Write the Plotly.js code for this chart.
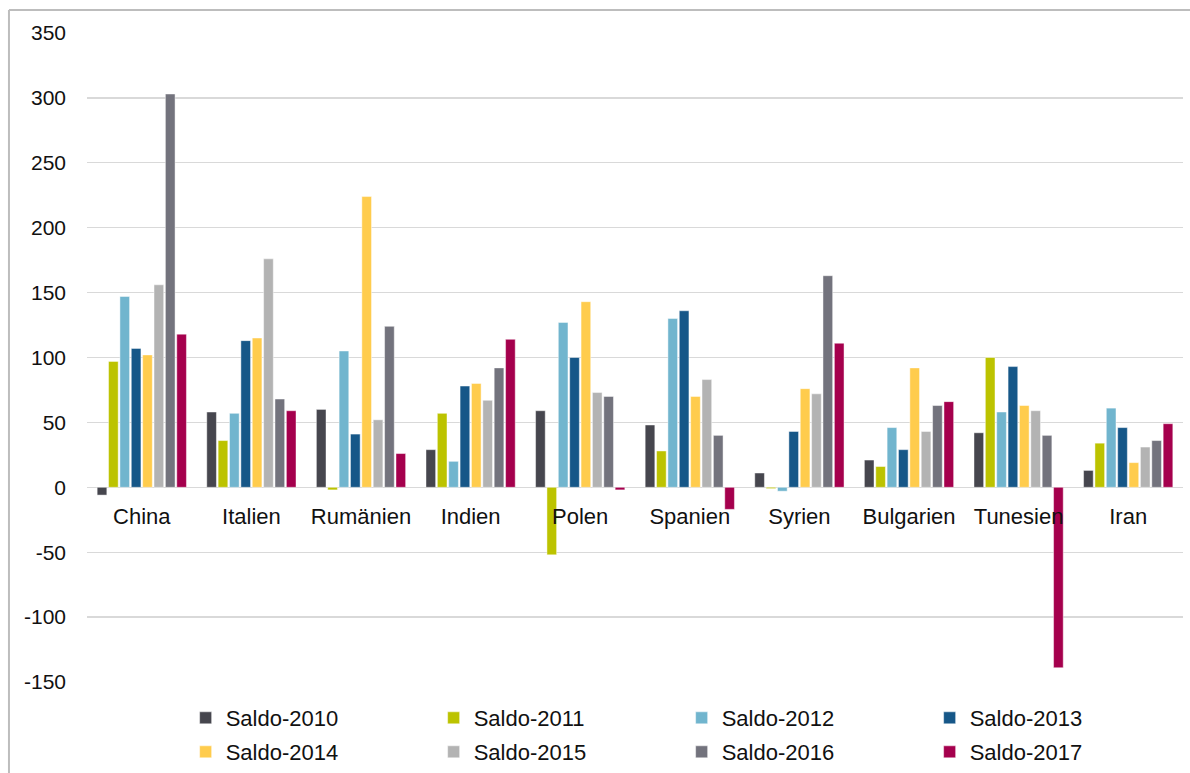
<!DOCTYPE html>
<html>
<head>
<meta charset="utf-8">
<script src="https://cdn.plot.ly/plotly-3.0.1.min.js"></script>
<style>
  html, body { margin: 0; padding: 0; background: #ffffff; }
  #chart { width: 1190px; height: 773px; }
</style>
</head>
<body>
<div id="chart"></div>
<script>
// Countries on the category axis
const countries = ["China", "Italien", "Rumänien", "Indien", "Polen", "Spanien", "Syrien", "Bulgarien", "Tunesien", "Iran"];

// Yearly balance per country
const saldo2010 = [-6, 58, 60, 29, 59, 48, 11, 21, 42, 13];
const saldo2011 = [97, 36, -2, 57, -52, 28, -1, 16, 100, 34];
const saldo2012 = [147, 57, 105, 20, 127, 130, -3, 46, 58, 61];
const saldo2013 = [107, 113, 41, 78, 100, 136, 43, 29, 93, 46];
const saldo2014 = [102, 115, 224, 80, 143, 70, 76, 92, 63, 19];
const saldo2015 = [156, 176, 52, 67, 73, 83, 72, 43, 59, 31];
const saldo2016 = [303, 68, 124, 92, 70, 40, 163, 63, 40, 36];
const saldo2017 = [118, 59, 26, 114, -2, -17, 111, 66, -139, 49];

const seriesNames = ["Saldo-2010", "Saldo-2011", "Saldo-2012", "Saldo-2013",
                     "Saldo-2014", "Saldo-2015", "Saldo-2016", "Saldo-2017"];
const seriesValues = [saldo2010, saldo2011, saldo2012, saldo2013,
                      saldo2014, saldo2015, saldo2016, saldo2017];
const seriesColors = ["#46464e", "#bcc300", "#71b5ce", "#165788",
                      "#ffcc4d", "#b3b3b3", "#73737d", "#a5004d"];

const yTicks = [-150, -100, -50, 0, 50, 100, 150, 200, 250, 300, 350];

// first four series go in the upper legend row, the rest in the lower one
const traces = seriesNames.map((name, i) => ({
  type: "bar",
  name: name,
  x: countries,
  y: seriesValues[i],
  legend: i < 4 ? "legend" : "legend2",
  marker: { color: seriesColors[i], line: { color: "rgba(255,255,255,0.45)", width: 1 } },
  hoverinfo: "x+y+name"
}));

const family = "Liberation Sans, Arial, sans-serif";
const textColor = "#111111";
const axisFont = { family: family, size: 21, color: textColor };
const catFont = { family: family, size: 22, color: textColor };
const legendFont = { family: family, size: 22, color: textColor };

const legendRow = (yPos) => ({
  orientation: "h",
  x: 0.09,
  xanchor: "left",
  y: yPos,
  yanchor: "middle",
  entrywidth: 203,
  entrywidthmode: "pixels",
  font: legendFont,
  traceorder: "normal",
  bgcolor: "rgba(0,0,0,0)"
});

const layout = {
  width: 1190,
  height: 773,
  margin: { l: 87, r: 7, t: 33, b: 91, autoexpand: false },
  paper_bgcolor: "#ffffff",
  plot_bgcolor: "#ffffff",
  font: axisFont,
  barmode: "group",
  bargap: 0.17,
  bargroupgap: 0.15,
  showlegend: true,
  xaxis: {
    type: "category",
    anchor: "free",
    position: 0.3,
    showgrid: false,
    showline: false,
    ticks: "",
    ticklabelstandoff: 14,
    tickfont: catFont,
    fixedrange: true
  },
  yaxis: {
    range: [-150, 350],
    tickvals: yTicks,
    ticktext: yTicks.map(String),
    showgrid: true,
    gridcolor: "#d9d9d9",
    gridwidth: 1.3,
    zeroline: true,
    zerolinecolor: "#d9d9d9",
    zerolinewidth: 1.5,
    showline: false,
    ticks: "",
    ticklabelstandoff: 20,
    tickfont: axisFont,
    fixedrange: true
  },
  legend: legendRow(-0.0555),
  legend2: legendRow(-0.1079),
  shapes: [
    // chart frame, left and top edges
    { type: "line", xref: "paper", yref: "paper",
      x0: -0.0712, x1: -0.0712, y0: -0.2, y1: 1.0354,
      line: { color: "#bdbdbd", width: 2 } },
    { type: "line", xref: "paper", yref: "paper",
      x0: -0.0712, x1: 1.01, y0: 1.0354, y1: 1.0354,
      line: { color: "#bdbdbd", width: 2 } }
  ]
};

Plotly.newPlot("chart", traces, layout, { displayModeBar: false, staticPlot: true });
</script>
</body>
</html>
